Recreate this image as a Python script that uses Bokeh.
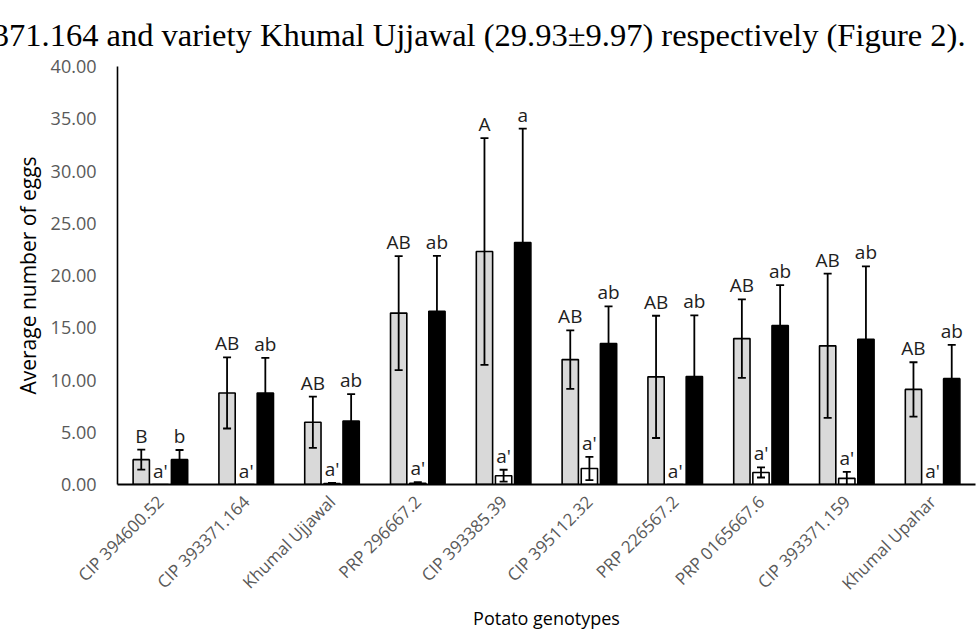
import math
from bokeh.plotting import figure
from bokeh.models import (Range1d, FactorRange, FixedTicker, Whisker, ColumnDataSource,
                          TeeHead, NumeralTickFormatter)
from bokeh.transform import dodge
from bokeh.embed import file_html
from bokeh.resources import INLINE
from bokeh.core.properties import value

genotypes = ["CIP 394600.52", "CIP 393371.164", "Khumal Ujjawal", "PRP 296667.2", "CIP 393385.39",
             "CIP 395112.32", "PRP 226567.2", "PRP 0165667.6", "CIP 393371.159", "Khumal Upahar"]

gray_mean = [2.38, 8.76, 5.95, 16.40, 22.30, 11.95, 10.30, 13.96, 13.27, 9.10]
gray_err = [0.95, 3.40, 2.45, 5.45, 10.85, 2.80, 5.85, 3.75, 6.90, 2.60]
gray_lab = ["B", "AB", "AB", "AB", "A", "AB", "AB", "AB", "AB", "AB"]

white_mean = [0.0, 0.0, 0.08, 0.12, 0.84, 1.53, 0.0, 1.15, 0.59, 0.0]
white_err = [0.0, 0.0, 0.08, 0.10, 0.57, 1.12, 0.0, 0.48, 0.62, 0.0]
white_lab = ["a'", "a'", "a'", "a'", "a'", "a'", "a'", "a'", "a'", "a'"]

black_mean = [2.38, 8.76, 6.07, 16.58, 23.15, 13.49, 10.33, 15.22, 13.90, 10.13]
black_err = [0.92, 3.35, 2.57, 5.30, 10.90, 3.56, 5.85, 3.85, 6.97, 3.23]
black_lab = ["b", "ab", "ab", "ab", "a", "ab", "ab", "ab", "ab", "ab"]

y_ticks = [0, 5, 10, 15, 20, 25, 30, 35, 40]

doc_text = "393371.164 and variety Khumal Ujjawal (29.93\u00b19.97) respectively (Figure 2)."

FONT = "Open Sans"
W, H = 976, 632
FL, FT, FB = 117, 66, 492

p = figure(width=W, height=H, output_backend="svg", toolbar_location=None,
           x_range=FactorRange(*genotypes, range_padding=0),
           y_range=Range1d(0, 40),
           min_border_left=FL, min_border_right=1, min_border_top=FT, min_border_bottom=H - FB,
           margin=(0, 0, 0, 0), title=doc_text)
p.outline_line_color = None
p.xgrid.grid_line_color = None
p.ygrid.grid_line_color = None
p.background_fill_color = "white"
p.border_fill_color = "white"

p.title.align = "right"
p.title.text_font = "Liberation Serif"
p.title.text_font_size = "32.5px"
p.title.text_font_style = "normal"
p.title.text_color = "black"
p.title.offset = 10
p.title.standoff = 28

OFF = 0.223
BW = 0.19

def series(mean, err, lab):
    up = [m + e for m, e in zip(mean, err)]
    lo = [m - e for m, e in zip(mean, err)]
    return dict(g=genotypes, m=mean, up=up, lo=lo, lab=lab, ly=up)

for mean, err, lab, off, fill in [(gray_mean, gray_err, gray_lab, -OFF, "#d9d9d9"),
                                  (white_mean, white_err, white_lab, 0.0, "white"),
                                  (black_mean, black_err, black_lab, OFF, "black")]:
    d = series(mean, err, lab)
    src = ColumnDataSource(d)
    p.vbar(x=dodge("g", off, range=p.x_range), top="m", bottom=0, width=BW, source=src,
           fill_color=fill, line_color="black", line_width=1.6)
    keep = [i for i, e in enumerate(err) if e > 0]
    wsrc = ColumnDataSource(dict(g=[genotypes[i] for i in keep],
                                 up=[d["up"][i] for i in keep],
                                 lo=[d["lo"][i] for i in keep]))
    wh = Whisker(base=dodge("g", off, range=p.x_range), upper="up", lower="lo", source=wsrc,
                 dimension="height", line_color="black", line_width=1.8, level="annotation",
                 upper_head=TeeHead(size=8, line_width=1.8, line_color="black"),
                 lower_head=TeeHead(size=8, line_width=1.8, line_color="black"))
    p.add_layout(wh)
    p.text(x=dodge("g", off, range=p.x_range), y="ly", text="lab", source=src,
           text_font=value(FONT), text_font_size="19px", text_color="#1e1e1e",
           text_align="center", text_baseline="bottom", y_offset=-1)

# axes
p.yaxis.ticker = FixedTicker(ticks=y_ticks)
p.yaxis.formatter = NumeralTickFormatter(format="0.00")
p.yaxis.major_tick_line_color = None
p.yaxis.minor_tick_line_color = None
p.yaxis.axis_line_width = 1.6
p.yaxis.axis_line_color = "black"
p.yaxis.major_label_text_font = FONT
p.yaxis.major_label_text_font_size = "18px"
p.yaxis.major_label_text_color = "#595959"
p.yaxis.major_label_standoff = 15
p.yaxis.axis_label = "Average number of eggs"
p.yaxis.axis_label_text_font = FONT
p.yaxis.axis_label_text_font_size = "21px"
p.yaxis.axis_label_text_font_style = "normal"
p.yaxis.axis_label_text_color = "black"
p.yaxis.axis_label_standoff = 6

p.xaxis.major_tick_line_color = None
p.xaxis.minor_tick_line_color = None
p.xaxis.axis_line_width = 2
p.xaxis.axis_line_color = "black"
p.xaxis.major_label_orientation = math.pi / 4
p.xaxis.major_label_text_font = FONT
p.xaxis.major_label_text_font_size = "17px"
p.xaxis.major_label_text_color = "#595959"
p.xaxis.major_label_standoff = 8
p.xaxis.axis_label = "Potato genotypes"
p.xaxis.axis_label_text_font = FONT
p.xaxis.axis_label_text_font_size = "18px"
p.xaxis.axis_label_text_font_style = "normal"
p.xaxis.axis_label_text_color = "black"
p.xaxis.axis_label_standoff = 0

open("out.html", "w").write(file_html(p, INLINE))
